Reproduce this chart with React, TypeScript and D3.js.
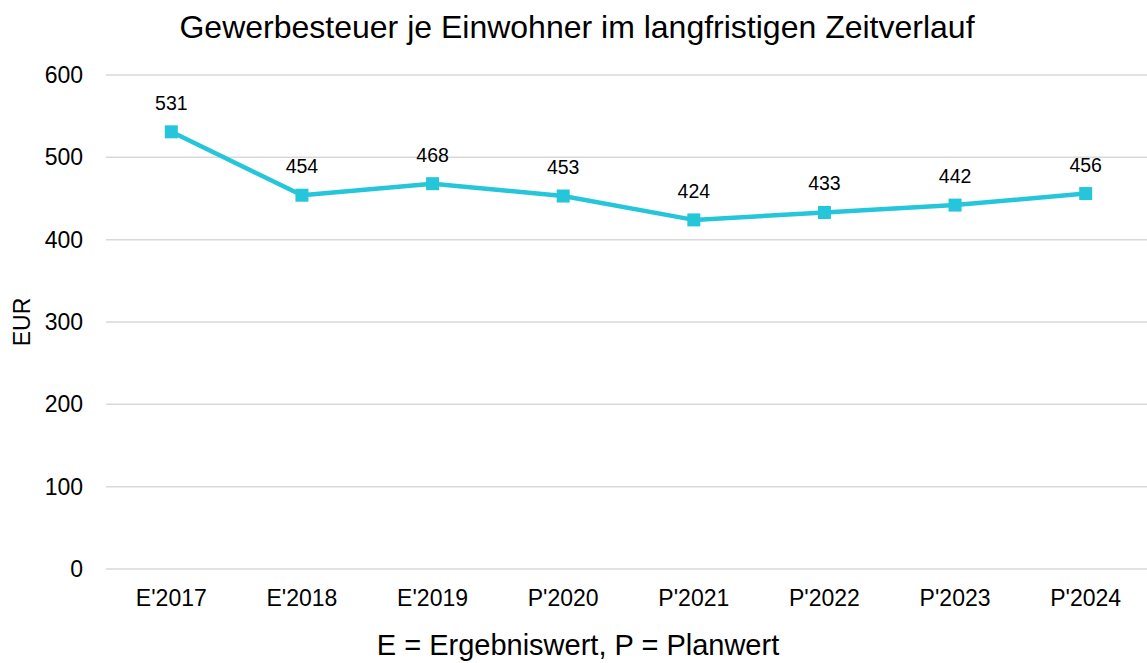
import { useMemo } from 'react'
import * as d3 from 'd3'

const categories = ["E'2017", "E'2018", "E'2019", "P'2020", "P'2021", "P'2022", "P'2023", "P'2024"]
const values = [531, 454, 468, 453, 424, 433, 442, 456]
const yTicks = [0, 100, 200, 300, 400, 500, 600]

const W = 1147
const H = 663
const FONT = '"Liberation Sans", Arial, sans-serif'
const LINE = '#26C6DA'

export default function App() {
  const { x, y, path } = useMemo(() => {
    const x = d3.scaleBand<string>().domain(categories).range([106, 1151])
    const y = d3.scaleLinear().domain([0, 600]).range([569, 75])
    const line = d3
      .line<number>()
      .x((_, i) => (x(categories[i]) ?? 0) + x.bandwidth() / 2)
      .y((d) => y(d))
    return { x, y, path: line(values) ?? '' }
  }, [])

  const cx = (i: number) => (x(categories[i]) ?? 0) + x.bandwidth() / 2

  return (
    <svg
      width={W}
      height={H}
      style={{ position: 'absolute', left: 0, top: 0, background: '#fff' }}
      fontFamily={FONT}
    >
      <text x={577} y={27} dy="0.35em" textAnchor="middle" fontSize={32} fill="#000">
        Gewerbesteuer je Einwohner im langfristigen Zeitverlauf
      </text>

      {yTicks.map((t) => (
        <g key={t}>
          <line x1={106} x2={W} y1={y(t)} y2={y(t)} stroke="#d9d9d9" strokeWidth={1.5} />
          <text x={83} y={y(t)} dy="0.35em" textAnchor="end" fontSize={23} fill="#000">
            {t}
          </text>
        </g>
      ))}

      <text
        transform={`translate(22,${y(300)}) rotate(-90)`}
        dy="0.35em"
        textAnchor="middle"
        fontSize={23}
        fill="#000"
      >
        EUR
      </text>

      {categories.map((c, i) => (
        <text key={c} x={cx(i)} y={598} dy="0.35em" textAnchor="middle" fontSize={23} fill="#000">
          {c}
        </text>
      ))}

      <text x={578} y={645} dy="0.35em" textAnchor="middle" fontSize={29} fill="#000">
        E = Ergebniswert, P = Planwert
      </text>

      <path d={path} fill="none" stroke={LINE} strokeWidth={4.5} strokeLinejoin="round" />

      {values.map((v, i) => (
        <g key={i}>
          <rect x={cx(i) - 6.5} y={y(v) - 6.5} width={13} height={13} fill={LINE} />
          <text x={cx(i)} y={y(v) - 22} textAnchor="middle" fontSize={19.5} fill="#000">
            {v}
          </text>
        </g>
      ))}
    </svg>
  )
}
